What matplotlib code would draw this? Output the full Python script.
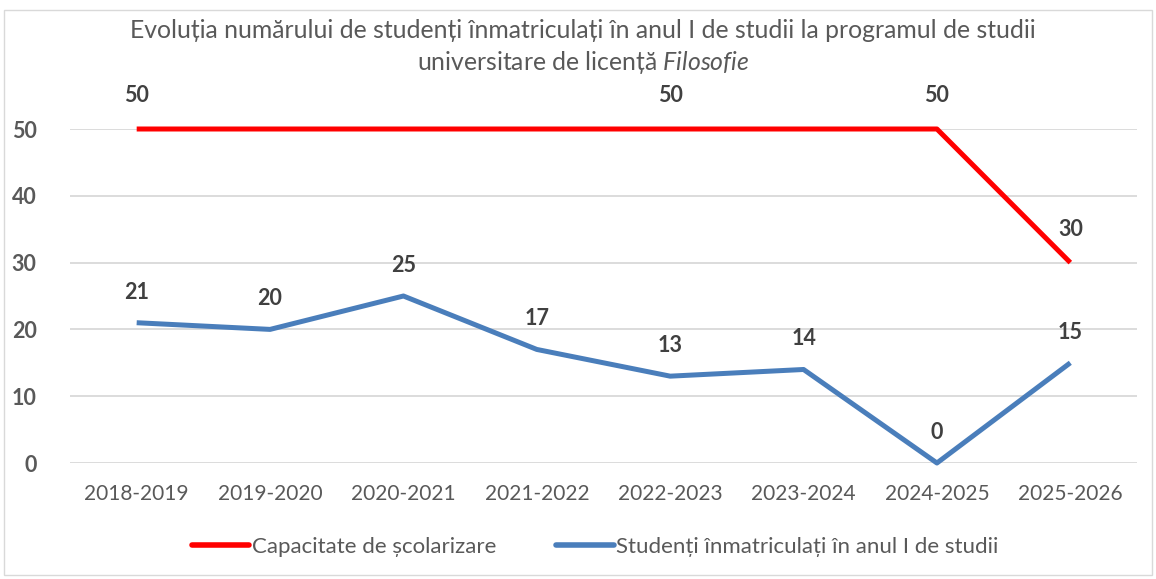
import matplotlib
matplotlib.use("Agg")
import matplotlib.pyplot as plt
from matplotlib.patches import Rectangle

years = ["2018-2019", "2019-2020", "2020-2021", "2021-2022",
         "2022-2023", "2023-2024", "2024-2025", "2025-2026"]
capacity = [50, 50, 50, 50, 50, 50, 50, 30]
students = [21, 20, 25, 17, 13, 14, 0, 15]
capacity_labelled = [0, 4, 6, 7]
yticks = [0, 10, 20, 30, 40, 50]

FONT = "Lato"
plt.rcParams['font.family'] = [FONT, 'DejaVu Sans']
plt.rcParams['mathtext.fontset'] = 'custom'
plt.rcParams['mathtext.it'] = 'Lato:italic'
plt.rcParams['mathtext.rm'] = 'Lato'
GRAY = "#595959"
DARK = "#404040"
RED = "#FF0000"
BLUE = "#4A7EBB"

fig = plt.figure(figsize=(11.56, 5.79), dpi=100)
W, H = 1156, 579
ax = fig.add_axes([70 / W, 1 - 463 / H, (1137 - 70) / W, (463 - 129) / H])

x = list(range(len(years)))
ax.plot(x, capacity, color=RED, lw=3.6, solid_capstyle='butt', clip_on=False, zorder=3,
        label="Capacitate de școlarizare")
ax.plot(x, students, color=BLUE, lw=3.6, solid_capstyle='butt', clip_on=False, zorder=3,
        label="Studenți înmatriculați în anul I de studii")

ax.set_xlim(-0.5, len(years) - 0.5)
ax.set_ylim(0, 50)
ax.set_yticks(yticks)
ax.set_xticks(x)
ax.set_xticklabels(years, fontsize=15, color=GRAY)
ax.set_yticklabels([str(v) for v in yticks], fontsize=15.5, color=GRAY, fontweight='bold')
ax.tick_params(axis='both', length=0)
ax.tick_params(axis='x', pad=15)
ax.tick_params(axis='y', pad=24)
ax.grid(axis='y', color="#D9D9D9", lw=1.3)
ax.set_axisbelow(True)
for s in ax.spines.values():
    s.set_visible(False)

for i in capacity_labelled:
    ax.annotate(str(capacity[i]), (i, capacity[i]), xytext=(0, 24), textcoords='offset points',
                ha='center', va='center', fontsize=15.5, fontweight='bold', color=DARK)
for i, v in enumerate(students):
    ax.annotate(str(v), (i, v), xytext=(0, 22), textcoords='offset points',
                ha='center', va='center', fontsize=15.5, fontweight='bold', color=DARK)

fig.text(0.5 + 5 / W, 1 - 30 / H, "Evoluția numărului de studenți înmatriculați în anul I de studii la programul de studii",
         ha='center', va='center', fontsize=17.8, color=GRAY)
fig.text(0.5 + 5 / W, 1 - 62 / H, "universitare de licență $\\mathit{Filosofie}$",
         ha='center', va='center', fontsize=17.8, color=GRAY)

leg = fig.legend(loc='center', bbox_to_anchor=(0.5 + 17 / W, 1 - 547 / H), ncol=2, frameon=False,
                 fontsize=16, handlelength=2.6, handletextpad=0.1, columnspacing=2.7)
for t in leg.get_texts():
    t.set_color(GRAY)
for h in leg.legend_handles:
    h.set_linewidth(4)
    h.set_solid_capstyle('round')

fig.patches.append(Rectangle((4 / W, 4 / H), 1148 / W, 565 / H, transform=fig.transFigure,
                             fill=False, edgecolor="#D9D9D9", lw=1))

fig.savefig("out.png", dpi=100)
